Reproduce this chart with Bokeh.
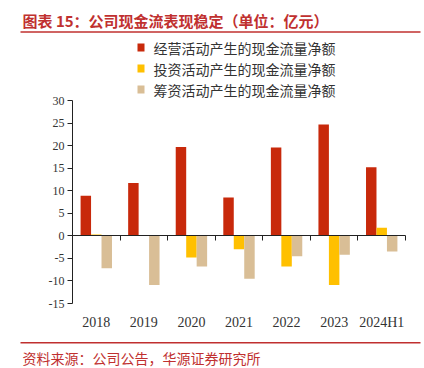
from bokeh.plotting import figure
from bokeh.models import ColumnDataSource, FixedTicker, LinearAxis, Range1d
from bokeh.core.properties import value
from bokeh.embed import file_html
from bokeh.resources import INLINE

categories = ["2018", "2019", "2020", "2021", "2022", "2023", "2024H1"]
operating = [8.9, 11.7, 19.7, 8.5, 19.6, 24.7, 15.2]
investing = [0.3, 0.0, -4.8, -3.0, -6.8, -10.9, 1.8]
financing = [-7.2, -10.9, -6.8, -9.5, -4.5, -4.2, -3.5]
series_names = ["经营活动产生的现金流量净额", "投资活动产生的现金流量净额", "筹资活动产生的现金流量净额"]
y_ticks = [-15, -10, -5, 0, 5, 10, 15, 20, 25, 30]
title_text = "图表 15：公司现金流表现稳定（单位：亿元）"
source_text = "资料来源：公司公告，华源证券研究所"

RED_TXT = "#C0302F"
COLORS = ["#C8290B", "#FFC000", "#D9BE96"]
SERIF = "Liberation Serif"
CJK = "Noto Sans CJK SC"
AXIS_COL = "#222222"
LABEL_COL = "#333333"

W, H = 424, 368
n = len(categories)
Y0, Y1 = y_ticks[0], y_ticks[-1]
# where the plotting area sits on the page (pixels)
FL, FR, FT, FB = 72, 405, 100, 303
sx = n / (FR - FL)            # data units per px (x)
sy = (Y1 - Y0) / (FB - FT)    # data units per px (y)


def X(px):
    return (px - FL) * sx


def Y(py):
    return Y1 - (py - FT) * sy


p = figure(width=W, height=H, x_range=Range1d(X(0), X(W)), y_range=Range1d(Y(H), Y(0)),
           output_backend="svg", toolbar_location=None,
           x_axis_location=None, y_axis_location=None,
           min_border=0, outline_line_color=None,
           background_fill_color="white", border_fill_color="white")
p.grid.visible = False

# ---------- bars ----------
centers = [i + 0.5 for i in range(n)]
bw = 0.22
offsets = [-bw, 0.0, bw]
for vals, off, col in zip([operating, investing, financing], offsets, COLORS):
    src = ColumnDataSource(dict(x=[c + off for c in centers], top=vals))
    p.vbar(x="x", top="top", bottom=0, width=bw, source=src,
           fill_color=col, line_color=None)

# ---------- axes ----------
yax = LinearAxis(ticker=FixedTicker(ticks=y_ticks), fixed_location=0, bounds=(Y0, Y1),
                 major_label_overrides={t: str(t) for t in y_ticks})
yax.axis_line_color = AXIS_COL
yax.major_tick_line_color = AXIS_COL
yax.major_tick_out = 5
yax.major_tick_in = 0
yax.minor_tick_out = 0
yax.minor_tick_in = 0
yax.major_label_standoff = 3
yax.major_label_text_font = SERIF
yax.major_label_text_font_size = "12px"
yax.major_label_text_color = LABEL_COL
p.add_layout(yax, "left")

bounds = list(range(1, n + 1))
zax = LinearAxis(ticker=FixedTicker(ticks=bounds), fixed_location=0, bounds=(0, n),
                 major_label_overrides={b: "" for b in bounds})
zax.axis_line_color = AXIS_COL
zax.major_tick_line_color = AXIS_COL
zax.major_tick_out = 5
zax.major_tick_in = 0
zax.minor_tick_out = 0
zax.minor_tick_in = 0
zax.major_label_standoff = 0
p.add_layout(zax, "below")

cax = LinearAxis(ticker=FixedTicker(ticks=centers), fixed_location=Y0,
                 major_label_overrides={c: lab for c, lab in zip(centers, categories)})
cax.axis_line_color = None
cax.major_tick_line_color = None
cax.minor_tick_line_color = None
cax.major_tick_out = 0
cax.major_tick_in = 0
cax.major_label_text_font = SERIF
cax.major_label_text_font_size = "14px"
cax.major_label_text_color = LABEL_COL
cax.major_label_standoff = 11
p.add_layout(cax, "below")

# ---------- title ----------
p.text(x=[X(22)], y=[Y(20)], text=[title_text], text_baseline="middle",
       text_font=value(CJK), text_font_style="bold", text_font_size="15px",
       text_color=RED_TXT)
p.line(x=[X(20), X(420)], y=[Y(31.5), Y(31.5)], line_color=RED_TXT, line_width=1.6)

# ---------- legend ----------
rows = [Y(47), Y(68), Y(89)]
p.rect(x=[X(140.5)] * 3, y=rows, width=7, height=8, width_units="screen",
       height_units="screen", fill_color=COLORS, line_color=None)
p.text(x=[X(153)] * 3, y=rows, text=series_names, text_baseline="middle",
       text_font=value(CJK), text_font_size="14px", text_color=LABEL_COL)

# ---------- footer ----------
p.line(x=[X(20), X(420)], y=[Y(342.3), Y(342.3)], line_color=RED_TXT, line_width=1.6)
p.text(x=[X(22)], y=[Y(357.5)], text=[source_text], text_baseline="middle",
       text_font=value(CJK), text_font_size="14px", text_color=RED_TXT)

open("out.html", "w").write(file_html(p, INLINE))
